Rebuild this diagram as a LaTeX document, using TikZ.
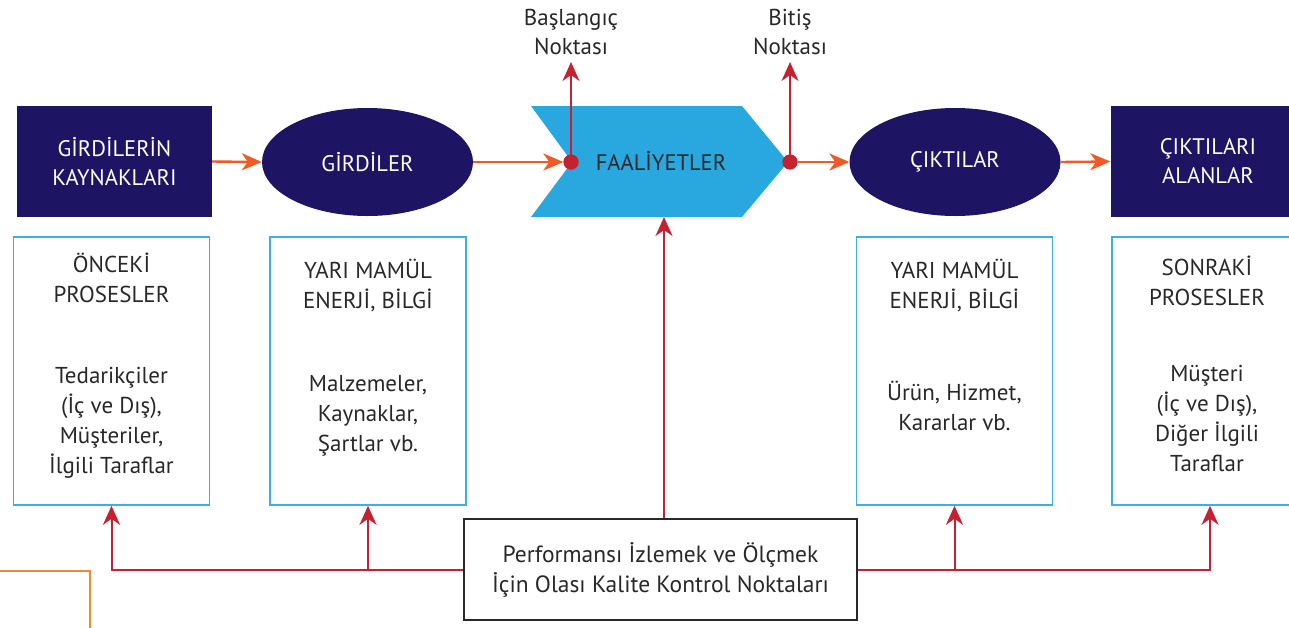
\documentclass[tikz,border=0pt]{standalone}
\usepackage{fontspec}
\setmainfont{PT Sans}
\usetikzlibrary{arrows.meta,shapes.geometric}

\definecolor{navy}{RGB}{29,20,99}
\definecolor{chevron}{RGB}{41,168,224}
\definecolor{sky}{RGB}{60,176,230}
\definecolor{flowor}{RGB}{241,90,36}
\definecolor{qcred}{RGB}{196,34,48}
\definecolor{ink}{RGB}{40,40,40}
\definecolor{frameor}{RGB}{240,136,58}

\tikzset{
  navybox/.style={rectangle, fill=navy, text=white, minimum width=195pt,
    minimum height=111pt, inner sep=0pt, align=center,
    font=\fontsize{22.5}{29}\selectfont},
  navyoval/.style={ellipse, fill=navy, text=white, minimum width=211pt,
    minimum height=108pt, inner sep=0pt, font=\fontsize{22.5}{29}\selectfont},
  infobox/.style={rectangle, draw=sky, line width=1.6pt, minimum width=196pt,
    minimum height=268pt, inner sep=0pt},
  infotext/.style={align=center, text=ink, inner sep=0pt,
    font=\fontsize{23}{30}\selectfont},
  toplabel/.style={align=center, text=ink, inner sep=0pt,
    font=\fontsize{23}{29}\selectfont},
  flow/.style={draw=flowor, line width=2.4pt,
    -{Stealth[length=20pt,width=17pt,inset=6pt]}},
  qcline/.style={draw=qcred, line width=2pt},
  qcarrow/.style={qcline, -{Stealth[length=19pt,width=17pt,inset=6pt]}},
  pointdot/.style={circle, fill=qcred, minimum size=15pt, inner sep=0pt},
}

\begin{document}
\begin{tikzpicture}[x=1pt,y=-1pt]
\useasboundingbox (0,0) rectangle (1289,627);

% main flow: sources, inputs, activity, outputs, receivers
\node[navybox] (src) at (114.5,161.5) {GİRDİLERİN\\KAYNAKLARI};
\node[navyoval] (inp) at (367.5,162) {GİRDİLER};
\fill[chevron] (531,106) -- (742,106) -- (788,162) -- (742,217) -- (531,217) -- (572,162) -- cycle;
\node[text=ink, inner sep=0pt, font=\fontsize{22.5}{29}\selectfont] (act) at (661,161) {FAALİYETLER};
\node[navyoval] (out) at (955,162) {ÇIKTILAR};
\node[navybox] (dst) at (1208,161.5) {ÇIKTILARI\\ALANLAR};

% start and end points of the activity
\node[pointdot] (start) at (571,162) {};
\node[pointdot] (finish) at (790,162) {};
\coordinate (starttip) at (571,62);
\coordinate (finishtip) at (790,62);
\node[toplabel] (startlbl) at (571,32) {Başlangıç\\Noktası};
\node[toplabel] (finishlbl) at (790,32) {Bitiş\\Noktası};

\draw[flow] (src.east) -- (inp.west);
\draw[flow] (inp.east) -- (start.west);
\draw[flow] (finish.east) -- (out.west);
\draw[flow] (out.east) -- (dst.west);

\draw[qcarrow] (start.center) -- (starttip);
\draw[qcarrow] (finish.center) -- (finishtip);
\node[pointdot] at (start) {};
\node[pointdot] at (finish) {};

% detail boxes
\node[infobox] (prevbox) at (111.5,371) {};
\node[infotext] (prevtop) at (111.5,278) {ÖNCEKİ\\PROSESLER};
\node[infotext] (prevlow) at (111.5,423) {Tedarikçiler\\(İç ve Dış),\\Müşteriler,\\İlgili Taraflar};

\node[infobox] (inbox) at (368,371) {};
\node[infotext] (intop) at (368,286) {YARI MAMÜL\\ENERJİ, BİLGİ};
\node[infotext] (inlow) at (368,416) {Malzemeler,\\Kaynaklar,\\Şartlar vb.};

\node[infobox] (outbox) at (954.5,371) {};
\node[infotext] (outtop) at (954.5,286) {YARI MAMÜL\\ENERJİ, BİLGİ};
\node[infotext] (outlow) at (954.5,406) {Ürün, Hizmet,\\Kararlar vb.};

\node[infobox] (nextbox) at (1210,371) {};
\node[infotext] (nexttop) at (1207,281) {SONRAKİ\\PROSESLER};
\node[infotext] (nextlow) at (1207,418) {Müşteri\\ (İç ve Dış),\\Diğer İlgili\\Taraflar};

% quality control points
\node[rectangle, draw=ink, line width=1.8pt, minimum width=393pt, minimum height=101pt,
      inner sep=0pt, align=center, text=ink, font=\fontsize{23.5}{30}\selectfont]
      (qc) at (660.5,569.5) {Performansı İzlemek ve Ölçmek\\İçin Olası Kalite Kontrol Noktaları};
\coordinate (actbot) at (664,217);

\draw[qcarrow] (actbot |- qc.north) -- (actbot);
\draw[qcarrow] (qc.west) -| (prevbox.south);
\draw[qcarrow] (inbox.south |- qc.west) -- (inbox.south);
\draw[qcarrow] (qc.east) -| (nextbox.south);
\draw[qcarrow] (outbox.south |- qc.east) -- (outbox.south);

% corner of a neighbouring frame
\draw[frameor, line width=2pt] (-2,571) -- (90,571) -- (90,630);
\end{tikzpicture}
\end{document}
